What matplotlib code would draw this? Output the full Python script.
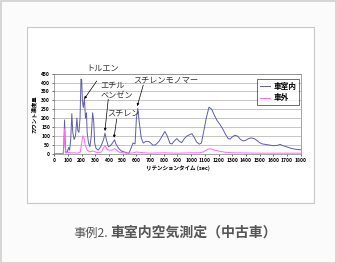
import matplotlib
matplotlib.use("Agg")
import matplotlib.pyplot as plt
from matplotlib.patches import Rectangle

plt.rcParams['font.family'] = ['Noto Sans CJK JP', 'DejaVu Sans']

# Data
inside_x = [0, 50, 65, 70, 75, 80, 85, 95, 105, 112, 120, 128, 135, 145, 155, 165, 172, 180, 188, 195, 200, 205, 212, 220, 228, 235, 240, 250, 260, 270, 280, 288, 295, 305, 320, 340, 360, 370, 380, 395, 410, 425, 440, 450, 470, 490, 510, 530, 545, 560, 575, 590, 600, 610, 620, 635, 650, 670, 690, 705, 720, 740, 765, 785, 808, 825, 845, 860, 875, 895, 910, 930, 950, 970, 990, 1005, 1020, 1040, 1060, 1075, 1090, 1110, 1130, 1150, 1170, 1190, 1210, 1230, 1250, 1270, 1285, 1300, 1320, 1340, 1360, 1380, 1400, 1420, 1440, 1460, 1480, 1500, 1520, 1560, 1600, 1630, 1650, 1670, 1700, 1730, 1760, 1800]
inside_y = [0, 0, 2, 60, 190, 60, 5, 10, 35, 20, 80, 225, 120, 80, 100, 200, 130, 120, 200, 420, 415, 300, 260, 310, 200, 230, 120, 60, 40, 100, 230, 180, 60, 30, 20, 40, 80, 115, 80, 40, 45, 60, 78, 55, 30, 15, 10, 5, 2, 30, 60, 55, 200, 255, 180, 90, 60, 70, 68, 60, 48, 50, 70, 95, 125, 100, 58, 55, 70, 85, 72, 62, 85, 100, 108, 112, 95, 65, 54, 60, 120, 200, 262, 250, 215, 185, 165, 140, 110, 85, 82, 95, 104, 98, 80, 72, 76, 85, 89, 85, 75, 62, 55, 50, 45, 47, 52, 45, 38, 30, 25, 22]

outside_x = [0, 60, 68, 75, 80, 85, 100, 120, 150, 170, 190, 200, 208, 215, 225, 240, 260, 280, 300, 320, 345, 365, 372, 385, 400, 420, 440, 455, 470, 500, 540, 580, 600, 620, 660, 700, 800, 900, 1000, 1060, 1090, 1120, 1140, 1160, 1200, 1250, 1300, 1400, 1500, 1800]
outside_y = [0, 0, 5, 140, 40, 5, 8, 5, 5, 3, 10, 60, 100, 95, 50, 20, 10, 15, 10, 5, 10, 40, 45, 25, 20, 20, 28, 20, 10, 5, 3, 5, 10, 8, 5, 3, 5, 3, 5, 5, 10, 25, 28, 22, 15, 8, 5, 4, 3, 3]

series_names = ['車室内', '車外']
x_ticks = list(range(0, 1801, 100))
y_ticks = list(range(0, 451, 50))

W, H = 337, 263
fig = plt.figure(figsize=(W / 100, H / 100), dpi=100)
fig.patch.set_facecolor('#fbfbfb')

def px(x0, y0, x1, y1):
    return [x0 / W, 1 - y1 / H, (x1 - x0) / W, (y1 - y0) / H]

# outer frame
fig.patches.append(Rectangle((0.5 / W, 0.5 / H), 1 - 1.5 / W, 1 - 1.5 / H, transform=fig.transFigure,
                             fill=False, edgecolor='#cfcfcf', lw=1.2, zorder=-2))
# inner panel
b = px(26.5, 26.5, 314, 203)
fig.patches.append(Rectangle((b[0], b[1]), b[2], b[3], transform=fig.transFigure,
                             facecolor='white', edgecolor='#c8c8c8', lw=0.8, zorder=-1))

ax = fig.add_axes(px(54.3, 73.7, 300.7, 153.7))
ax.set_zorder(3)
ax.set_facecolor('white')
ax.plot(inside_x, inside_y, color='#5c5cb0', lw=0.7, label=series_names[0])
ax.plot(outside_x, outside_y, color='#ff66ff', lw=0.7, label=series_names[1])
ax.set_xlim(0, 1800)
ax.set_ylim(0, 450)
ax.set_xticks(x_ticks)
ax.set_yticks(y_ticks)
ax.tick_params(labelsize=3.6, length=1.5, width=0.4, pad=1.5)
for lab in ax.get_xticklabels() + ax.get_yticklabels():
    lab.set_fontweight('bold')
ax.yaxis.grid(True, color='#9a9a9a', lw=0.4)
ax.set_axisbelow(True)
for s in ax.spines.values():
    s.set_color('#808080')
    s.set_linewidth(0.5)
ax.set_xlabel('リテンションタイム (sec)', fontsize=4, fontweight='bold', labelpad=2)
ax.set_ylabel('カウント濃度量', fontsize=3.9, fontweight='bold', labelpad=3)

leg = ax.legend(loc='upper left', bbox_to_anchor=(0.823, 0.935), fontsize=5.5, frameon=True,
                fancybox=False, edgecolor='black', handlelength=1.3, handletextpad=0.5,
                borderpad=0.35, labelspacing=0.35, borderaxespad=0)
leg.get_frame().set_linewidth(0.5)
for t in leg.get_texts():
    t.set_fontweight('bold')

arw = dict(arrowstyle='-|>', lw=0.5, color='black', mutation_scale=3.5, shrinkA=0, shrinkB=0)
tk = dict(fontsize=5.9, color='#333333', clip_on=False, va='center')
ax.text(356, 482, 'トルエン', ha='center', **tk)
ax.annotate('', xy=(219, 308), xytext=(310, 409), arrowprops=arw, annotation_clip=False)
ax.text(335, 386, 'エチル', ha='left', **tk)
ax.text(335, 330, 'ベンゼン', ha='left', **tk)
ax.annotate('', xy=(370, 128), xytext=(394, 306), arrowprops=arw, annotation_clip=False)
ax.text(385, 229, 'スチレン', ha='left', **tk)
ax.annotate('', xy=(436, 90), xytext=(456, 195), arrowprops=arw, annotation_clip=False)
ax.text(575, 415, 'スチレンモノマー', ha='left', **tk)
ax.annotate('', xy=(606, 268), xytext=(650, 386), arrowprops=arw, annotation_clip=False)

ty = 1 - 233 / H
fig.text(108 / W, ty, '事例2.', ha='right', va='center', fontsize=8.8, color='#555555')
fig.text(110 / W, ty, '車室内空気測定（中古車）', ha='left', va='center', fontsize=10,
         fontweight='bold', color='#555555')

fig.savefig('out.png', dpi=100, facecolor=fig.get_facecolor())
